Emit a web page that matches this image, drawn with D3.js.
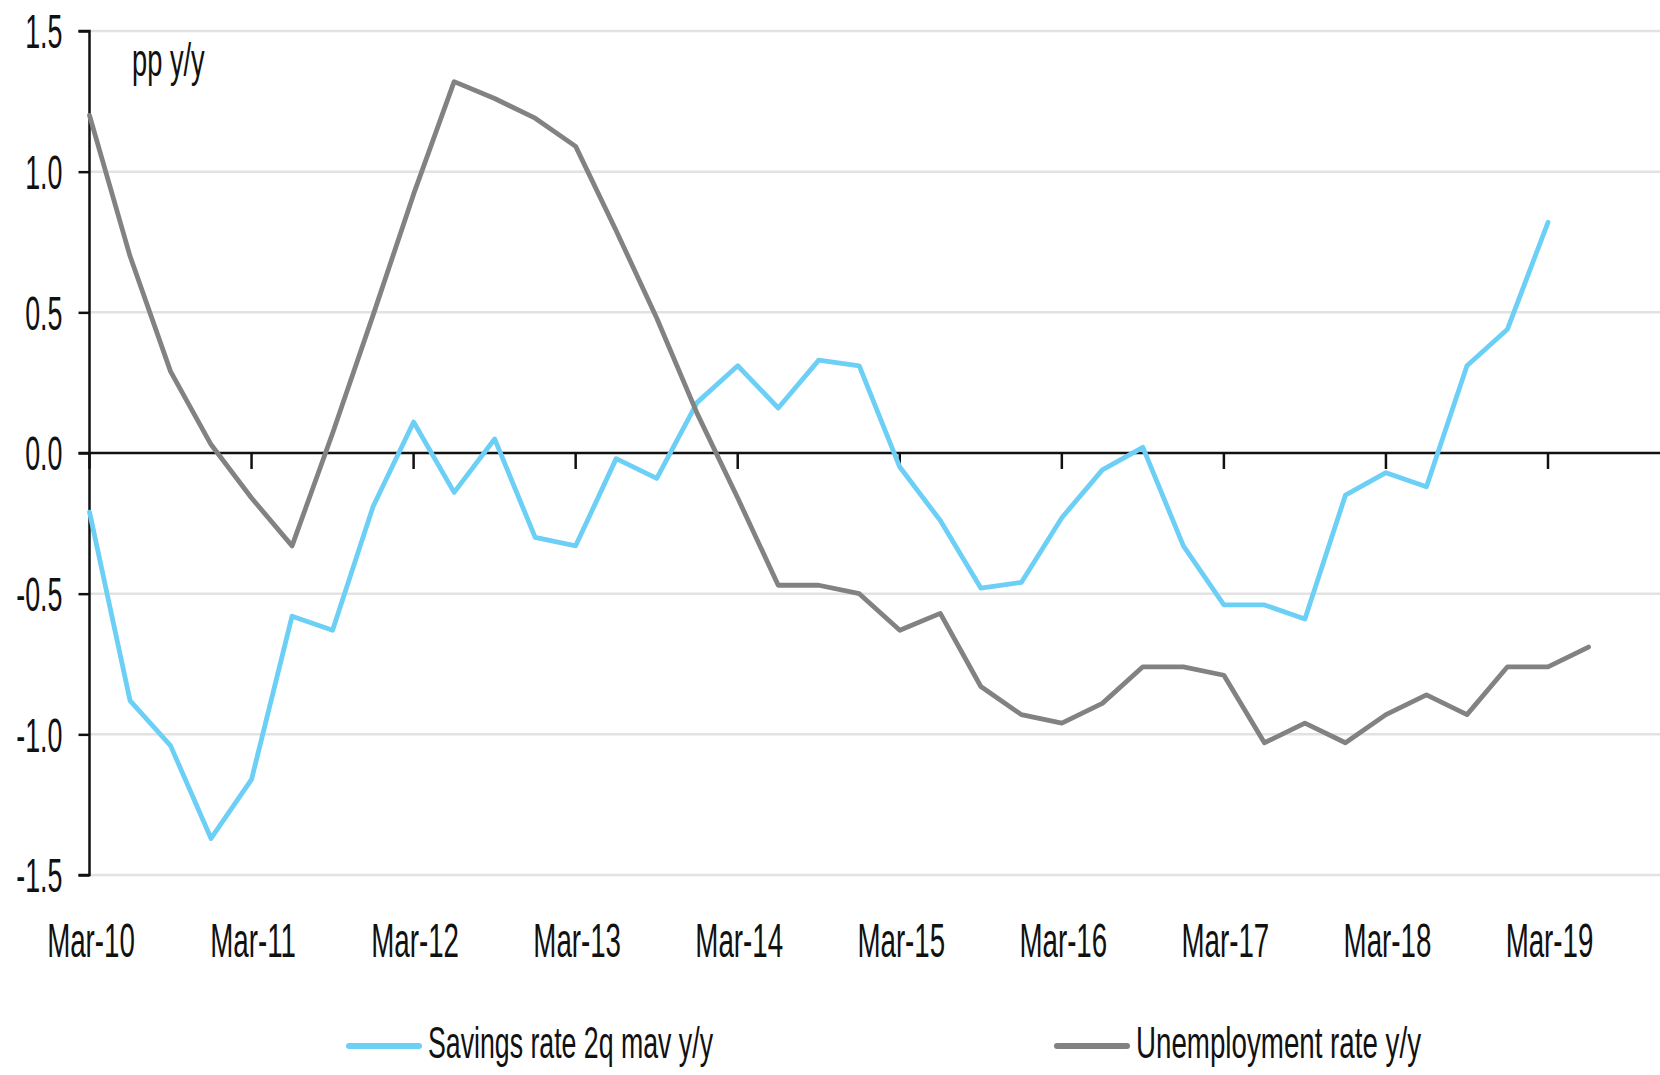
<!DOCTYPE html>
<html>
<head>
<meta charset="utf-8">
<script src="https://cdn.jsdelivr.net/npm/d3@7"></script>
<style>
  body { margin: 0; background: #fff; }
  svg text { font-family: "Liberation Sans", Arial, sans-serif; fill: #111; }
</style>
</head>
<body>
<div id="chart"></div>
<script>
// quarterly, Mar-10 .. Jun-19
var yearLabels = ["Mar-10", "Mar-11", "Mar-12", "Mar-13", "Mar-14", "Mar-15", "Mar-16", "Mar-17", "Mar-18", "Mar-19"];
var yTicks = [1.5, 1.0, 0.5, 0.0, -0.5, -1.0, -1.5];

// savings rate 2q mav y/y (Mar-10 .. Mar-19)
var savings = [-0.21, -0.88, -1.04, -1.37, -1.16, -0.58, -0.63, -0.19, 0.11, -0.14,
    0.05, -0.30, -0.33, -0.02, -0.09, 0.18, 0.31, 0.16, 0.33, 0.31,
    -0.05, -0.24, -0.48, -0.46, -0.23, -0.06, 0.02, -0.33, -0.54, -0.54,
    -0.59, -0.15, -0.07, -0.12, 0.31, 0.44, 0.82];

// unemployment rate y/y (Mar-10 .. Jun-19)
var unemployment = [1.20, 0.70, 0.29, 0.03, -0.16, -0.33, 0.07, 0.49, 0.92, 1.32,
    1.26, 1.19, 1.09, 0.79, 0.48, 0.14, -0.16, -0.47, -0.47, -0.50,
    -0.63, -0.57, -0.83, -0.93, -0.96, -0.89, -0.76, -0.76, -0.79, -1.03,
    -0.96, -1.03, -0.93, -0.86, -0.93, -0.76, -0.76, -0.69];

var seriesNames = ["Savings rate 2q mav y/y", "Unemployment rate y/y"];
var seriesColors = ["#6ccff5", "#828282"];

var width = 1660, height = 1075;

var svg = d3.select("#chart").append("svg")
    .attr("width", width)
    .attr("height", height);

var x = d3.scaleLinear().domain([0, 36]).range([89.5, 1548]);
var y = d3.scaleLinear().domain([-1.5, 1.5]).range([875, 31]);

// squeeze text horizontally, the source font is very condensed
function squash(sel, k) {
    sel.each(function() {
        var w = this.getComputedTextLength();
        this.setAttribute("textLength", w * k);
        this.setAttribute("lengthAdjust", "spacingAndGlyphs");
    });
}

// gridlines
svg.append("g").selectAll("line")
    .data(yTicks.filter(function(d) { return d !== 0; }))
    .enter().append("line")
    .attr("x1", x(0)).attr("x2", width)
    .attr("y1", function(d) { return y(d); })
    .attr("y2", function(d) { return y(d); })
    .style("stroke", "#e2e2e2")
    .style("stroke-width", 2.5);

// y axis
var yAxis = svg.append("g")
    .attr("transform", "translate(" + x(0) + ",0)")
    .call(d3.axisLeft(y).tickValues(yTicks).tickSize(11).tickPadding(16)
        .tickFormat(d3.format(".1f")));
yAxis.select(".domain").attr("d", "M-11," + y(1.5) + "H0V" + y(-1.5) + "H-11")
    .style("stroke", "#111").style("stroke-width", 2.5);
yAxis.selectAll(".tick line").style("stroke", "#111").style("stroke-width", 2.5);
yAxis.selectAll(".tick text")
    .attr("font-size", 48)
    .attr("dy", "0.35em")
    .style("font-family", "'Liberation Sans', Arial, sans-serif")
    .text(function(d) { return d3.format(".1f")(d).replace("−", "-"); })
    .call(squash, 0.56);

// zero line with year ticks
svg.append("line")
    .attr("x1", x(0) - 11).attr("x2", width)
    .attr("y1", y(0)).attr("y2", y(0))
    .style("stroke", "#111").style("stroke-width", 2.5);

svg.append("g").selectAll("line")
    .data(yearLabels)
    .enter().append("line")
    .attr("x1", function(d, i) { return x(i * 4); })
    .attr("x2", function(d, i) { return x(i * 4); })
    .attr("y1", y(0)).attr("y2", y(0) + 16)
    .style("stroke", "#111").style("stroke-width", 2.5);

// x labels
svg.append("g").selectAll("text")
    .data(yearLabels)
    .enter().append("text")
    .attr("x", function(d, i) { return x(i * 4) + 1.5; })
    .attr("y", 957)
    .attr("text-anchor", "middle")
    .attr("font-size", 49)
    .text(function(d) { return d; })
    .call(squash, 0.565);

// unit label
svg.append("text")
    .attr("x", 132).attr("y", 76)
    .attr("font-size", 47)
    .text("pp y/y")
    .call(squash, 0.58);

// lines
var line = d3.line()
    .x(function(d, i) { return x(i); })
    .y(function(d) { return y(d); });

[savings, unemployment].forEach(function(s, k) {
    svg.append("path")
        .datum(s)
        .attr("d", line)
        .style("fill", "none")
        .style("stroke", seriesColors[k])
        .style("stroke-width", 4.8)
        .style("stroke-linejoin", "round")
        .style("stroke-linecap", "round");
});

// legend
var legendX = [349, 1057];
var legend = svg.append("g").selectAll("g")
    .data(seriesNames)
    .enter().append("g")
    .attr("transform", function(d, i) { return "translate(" + legendX[i] + ",1046)"; });

legend.append("line")
    .attr("x1", 0).attr("x2", 70)
    .style("stroke", function(d, i) { return seriesColors[i]; })
    .style("stroke-width", 6)
    .style("stroke-linecap", "round");

legend.append("text")
    .attr("x", 79).attr("y", 12)
    .attr("font-size", 45)
    .text(function(d) { return d; })
    .each(function() {
        this.setAttribute("textLength", 285);
        this.setAttribute("lengthAdjust", "spacingAndGlyphs");
    });
</script>
</body>
</html>
